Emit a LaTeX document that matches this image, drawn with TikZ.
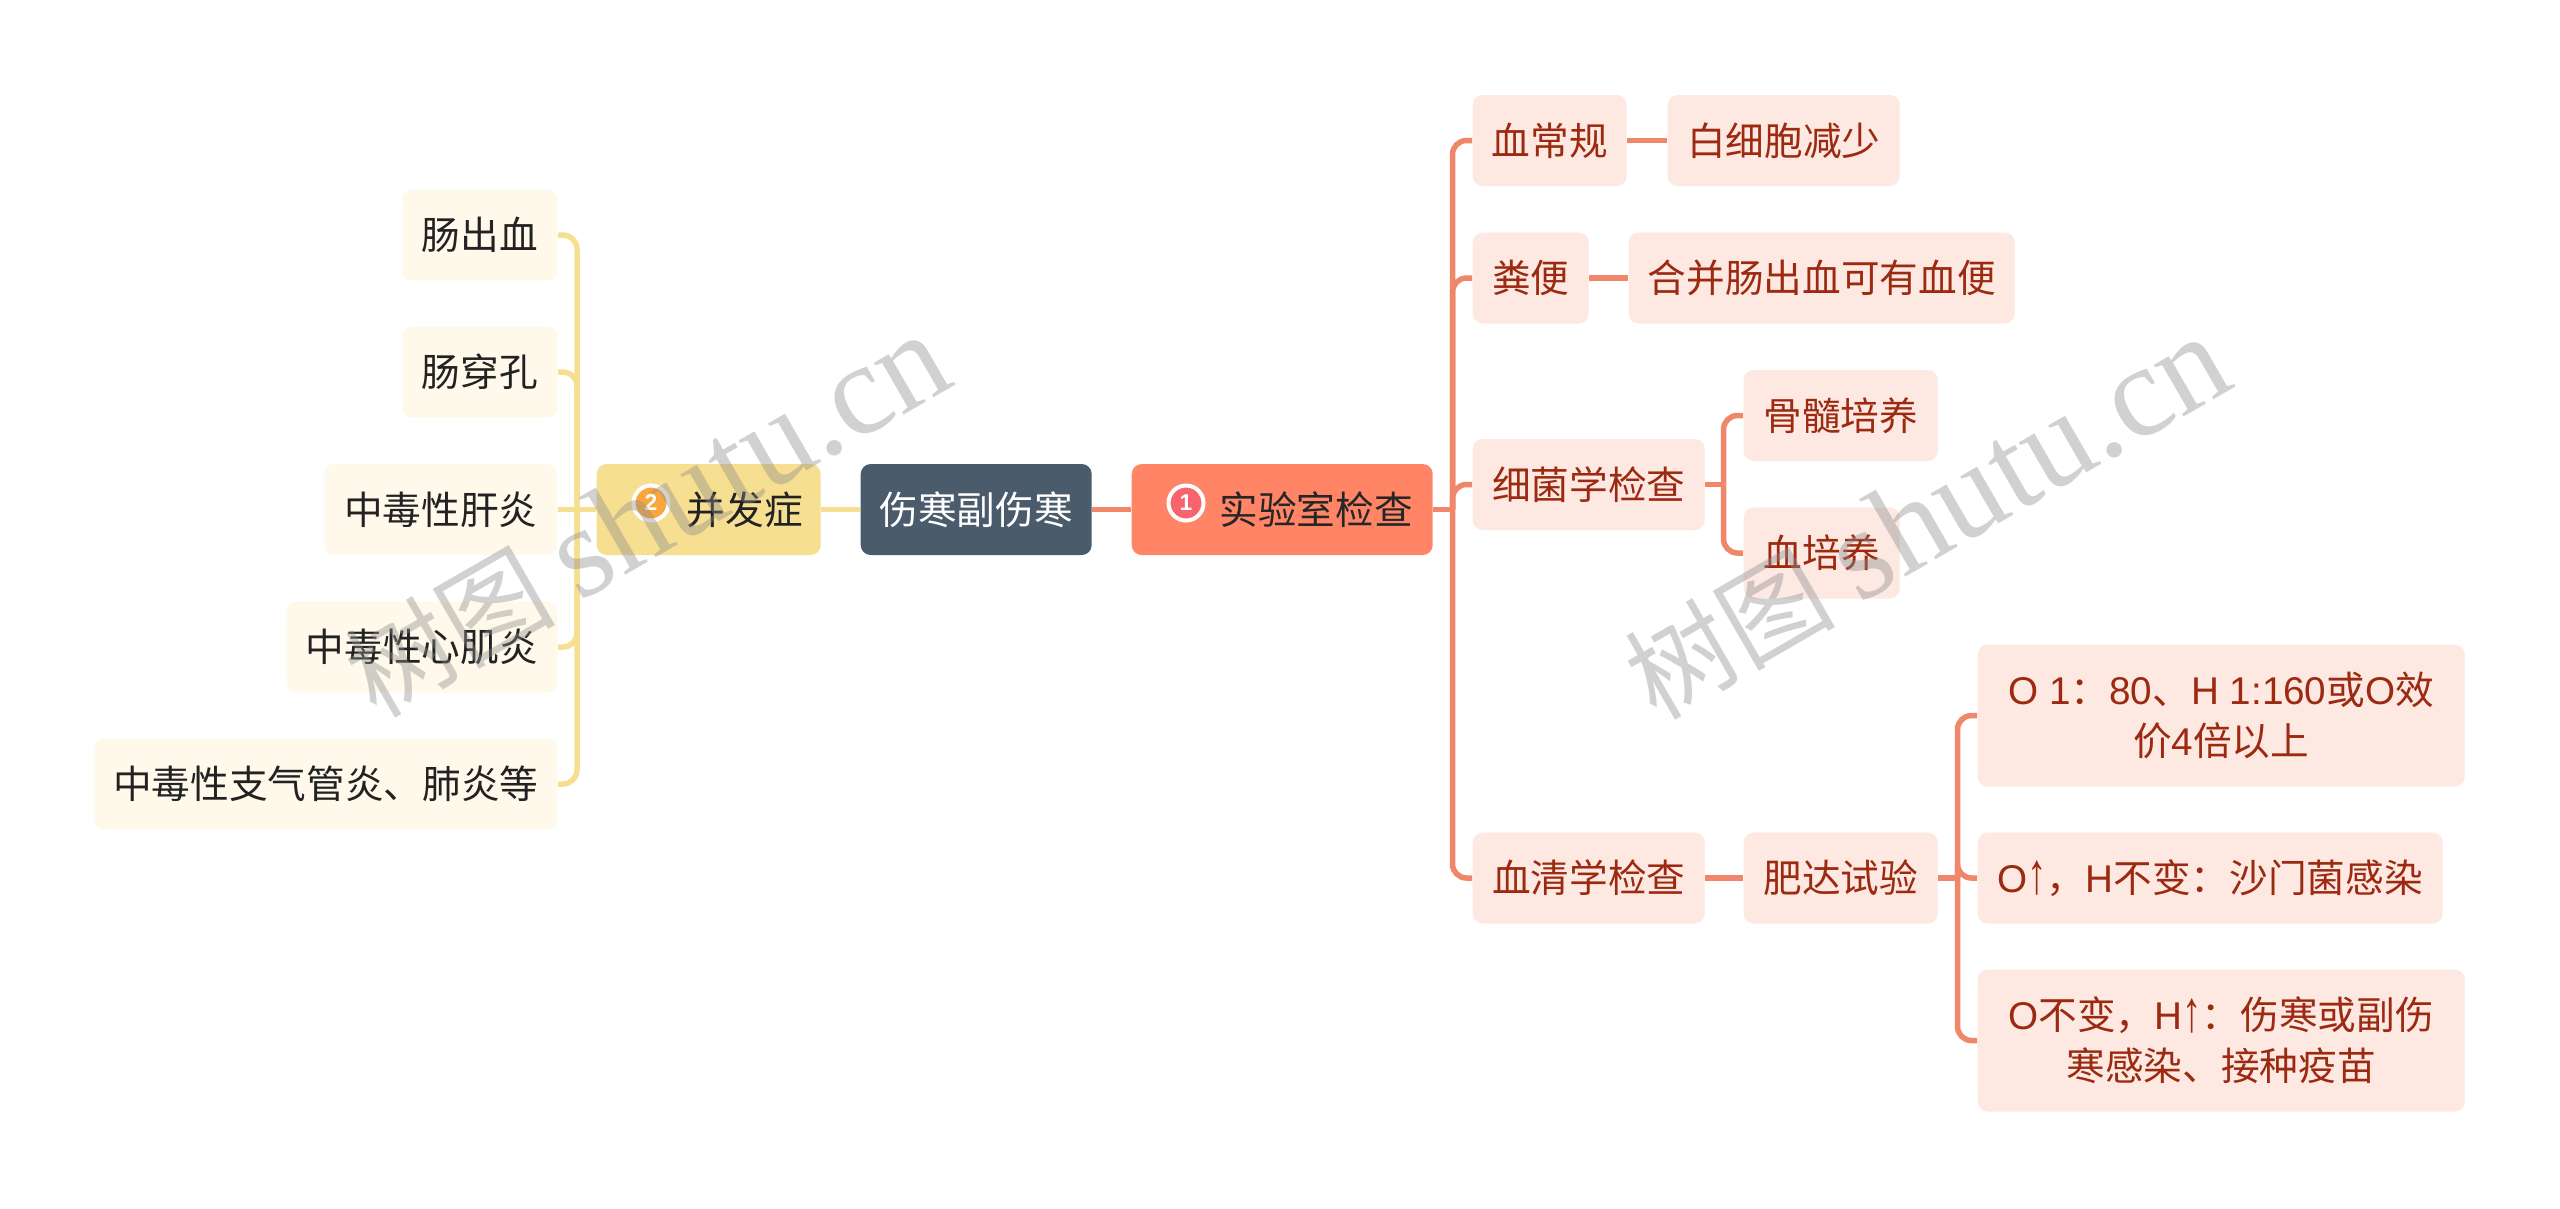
\documentclass[tikz,border=0pt]{standalone}
\usepackage{fontspec}
\setmainfont{Noto Sans CJK SC}
\newfontfamily\latfont{Liberation Sans}
\newfontfamily\markfont{Liberation Serif}
\definecolor{hubgray}{HTML}{4A5B6B}
\definecolor{labred}{HTML}{FF8566}
\definecolor{labline}{HTML}{F0866A}
\definecolor{labpale}{HTML}{FDE8E2}
\definecolor{labtext}{HTML}{9C2A10}
\definecolor{compgold}{HTML}{F7DF92}
\definecolor{comppale}{HTML}{FEF9EA}
\definecolor{comptext}{HTML}{222222}
\definecolor{iconred}{HTML}{F9636B}
\definecolor{iconorange}{HTML}{F9A63C}
\definecolor{markgray}{HTML}{8C8C8C}
\newcommand{\lat}[1]{{\latfont #1}}
\newcommand{\uparrowmark}{{\latfont\raisebox{-0.04em}{\scalebox{1}[1.5]{↑}}}}
\tikzset{
  basebox/.style={rounded corners=0.1cm, inner sep=0pt, minimum height=0.91cm, anchor=west, align=center,
    font=\fontsize{11}{14.5}\selectfont},
  labbox/.style={basebox, fill=labpale, text=labtext},
  compbox/.style={basebox, fill=comppale, text=comptext},
  labline/.style={draw=labline, line width=0.055cm, rounded corners=0.14cm},
  compline/.style={draw=compgold, line width=0.055cm, rounded corners=0.14cm},
  iconbadge/.style={circle, draw=white, line width=0.04cm, minimum size=0.35cm, inner sep=0pt, text=white,
    font=\latfont\bfseries\fontsize{6.5}{7}\selectfont},
  watermark/.style={text=markgray, opacity=0.4, rotate=30, inner sep=0pt}
}
\begin{document}
\begin{tikzpicture}

\useasboundingbox (0,0) rectangle (25.6,-12.08);
\fill[white] (0,0) rectangle (25.6,-12.08);

% Centre row
\node[basebox, fill=hubgray, text=white, minimum width=2.31cm] (hub) at (8.60,-5.095) {伤寒副伤寒};
\node[basebox, fill=labred, text=black!85, minimum width=3.01cm] (lab) at (11.31,-5.095) {\hspace*{0.68cm}实验室检查};
\node[basebox, fill=compgold, text=comptext, minimum width=2.24cm] (comp) at (5.96,-5.095) {\hspace*{0.72cm}并发症};
\node[iconbadge, fill=iconred] (labicon) at (11.86,-5.03) {1};
\node[iconbadge, fill=iconorange] (compicon) at (6.51,-5.03) {2};

% Lab tests, first level
\node[labbox, minimum width=1.54cm] (cbc) at (14.72,-1.405) {血常规};
\node[labbox, minimum width=1.16cm] (stool) at (14.72,-2.78) {粪便};
\node[labbox, minimum width=2.32cm] (bact) at (14.72,-4.845) {细菌学检查};
\node[labbox, minimum width=2.32cm] (sero) at (14.72,-8.78) {血清学检查};

% Lab tests, second level
\node[labbox, minimum width=2.32cm] (wbc) at (16.67,-1.405) {白细胞减少};
\node[labbox, minimum width=3.86cm] (stoolres) at (16.28,-2.78) {合并肠出血可有血便};
\node[labbox, minimum width=1.94cm] (marrow) at (17.43,-4.155) {骨髓培养};
\node[labbox, minimum width=1.56cm] (culture) at (17.43,-5.53) {血培养};
\node[labbox, minimum width=1.94cm] (widal) at (17.43,-8.78) {肥达试验};

% Widal results
\node[labbox, minimum width=4.87cm, minimum height=1.42cm] (titer) at (19.77,-7.155) {\lat{O 1}：\lat{80}、\lat{H 1:160}或\lat{O}效\\价\lat{4}倍以上};
\node[labbox, minimum width=4.65cm] (salm) at (19.77,-8.78) {\lat{O}\uparrowmark，\lat{H}不变：沙门菌感染};
\node[labbox, minimum width=4.87cm, minimum height=1.42cm] (typh) at (19.77,-10.405) {\lat{O}不变，\lat{H}\uparrowmark：伤寒或副伤\\寒感染、接种疫苗};

% Complications
\node[compbox, anchor=east, minimum width=1.55cm] (bleed) at (5.58,-2.35) {肠出血};
\node[compbox, anchor=east, minimum width=1.55cm] (perf) at (5.58,-3.72) {肠穿孔};
\node[compbox, anchor=east, minimum width=2.33cm] (hepat) at (5.58,-5.095) {中毒性肝炎};
\node[compbox, anchor=east, minimum width=2.71cm] (myo) at (5.58,-6.47) {中毒性心肌炎};
\node[compbox, anchor=east, minimum width=4.63cm] (bronch) at (5.58,-7.84) {中毒性支气管炎、肺炎等};

% Bus points
\coordinate (labbus) at (14.525,-5.095);
\coordinate (bactbus) at (17.235,-4.845);
\coordinate (widalbus) at (19.575,-8.78);
\coordinate (compbus) at (5.77,-5.095);

% Connectors
\draw[labline] (hub) -- (lab);
\draw[labline] (lab) -- (labbus);
\foreach \n in {cbc,stool,bact,sero}
  \draw[labline] (labbus) |- (\n.west);
\draw[labline] (cbc) -- (wbc);
\draw[labline] (stool) -- (stoolres);
\draw[labline] (bact) -- (bactbus);
\foreach \n in {marrow,culture}
  \draw[labline] (bactbus) |- (\n.west);
\draw[labline] (sero) -- (widal);
\draw[labline] (widal) -- (widalbus);
\foreach \n in {titer,salm,typh}
  \draw[labline] (widalbus) |- (\n.west);
\draw[compline] (comp) -- (hub);
\draw[compline] (comp) -- (hepat);
\foreach \n in {bleed,perf,myo,bronch}
  \draw[compline] (compbus) |- (\n.east);

% Watermarks
\node[watermark] (markleft) at (6.47,-5.16) {\fontsize{30}{30}\selectfont 树图 {\markfont\fontsize{37}{37}\selectfont shutu.cn}};
\node[watermark] (markright) at (19.27,-5.18) {\fontsize{30}{30}\selectfont 树图 {\markfont\fontsize{37}{37}\selectfont shutu.cn}};

\end{tikzpicture}
\end{document}
